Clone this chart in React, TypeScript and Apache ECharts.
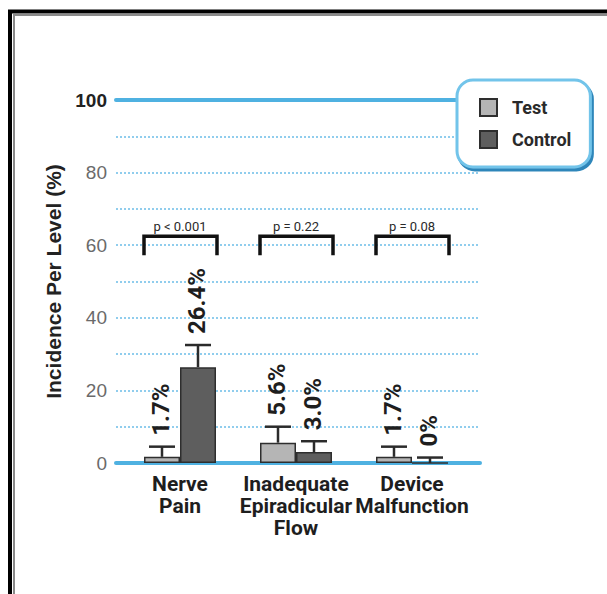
import React, { useEffect, useRef } from "react";
import * as echarts from "echarts";

const categories = ["Nerve\nPain", "Inadequate\nEpiradicular\nFlow", "Device\nMalfunction"];
const seriesNames = ["Test", "Control"];
const testValues = [1.7, 5.6, 1.7];
const controlValues = [26.4, 3.0, 0];
const testUpper = [4.5, 10.0, 4.5];
const controlUpper = [32.5, 6.0, 1.5];
const testLabels = ["1.7%", "5.6%", "1.7%"];
const controlLabels = ["26.4%", "3.0%", "0%"];
const pLabels = ["p < 0.001", "p = 0.22", "p = 0.08"];
const yMin = 0;
const yMax = 100;
const yInterval = 10;

const COND = "Roboto, 'Liberation Sans Narrow', sans-serif";
const SANS = "'Liberation Sans', Arial, sans-serif";
const BLUE = "#4fb1e1";

function errRender(offset: number, labels: string[]) {
  return (params: any, api: any) => {
    const cat = api.value(0);
    const v = api.value(1);
    const up = api.value(2);
    const base = api.coord([cat, v]);
    const top = api.coord([cat, up]);
    const x = base[0] + offset;
    const half = 13;
    const st = { stroke: "#2b2b2b", lineWidth: 2.5 };
    return {
      type: "group",
      children: [
        { type: "line", shape: { x1: x, y1: base[1], x2: x, y2: top[1] }, style: st },
        { type: "line", shape: { x1: x - half, y1: top[1], x2: x + half, y2: top[1] }, style: st },
        {
          type: "text",
          x: x - 1,
          y: top[1] - 11,
          rotation: Math.PI / 2,
          style: {
            text: labels[params.dataIndex],
            fill: "#1e1e1e",
            font: `bold 24px ${COND}`,
            align: "left",
            verticalAlign: "middle",
          },
        },
      ],
    };
  };
}

function bracketRender(params: any, api: any) {
  const cat = api.value(0);
  const c = api.coord([cat, 0])[0];
  const t = api.coord([cat, 62.5])[1];
  const b = api.coord([cat, 57.2])[1];
  const l = c - 36;
  const r = c + 37;
  return {
    type: "group",
    children: [
      {
        type: "polyline",
        shape: { points: [[l, b], [l, t], [r, t], [r, b]] },
        style: { stroke: "#111", lineWidth: 3.5, fill: "none", lineJoin: "miter" },
      },
      {
        type: "text",
        x: c,
        y: t - 3,
        style: {
          text: pLabels[params.dataIndex],
          fill: "#2a2a2a",
          font: `13px ${COND}`,
          align: "center",
          verticalAlign: "bottom",
        },
      },
    ],
  };
}

export default function App() {
  const ref = useRef<HTMLDivElement>(null);
  useEffect(() => {
    if (!ref.current) return;
    const chart = echarts.init(ref.current, undefined, { renderer: "svg" });
    const hiddenValueX = (pos: string) => ({
      type: "value",
      gridIndex: 0,
      position: pos,
      min: 0,
      max: 1,
      axisLine: { show: true, lineStyle: { color: BLUE, width: 4, cap: "round" } },
      axisTick: { show: false },
      axisLabel: { show: false },
      splitLine: { show: false },
    });
    const option: any = {
      animation: false,
      backgroundColor: "#ffffff",
      grid: [
        { left: 116, width: 364, top: 100, height: 363 },
        { left: 122, width: 348, top: 100, height: 363 },
      ],
      xAxis: [
        hiddenValueX("bottom"),
        hiddenValueX("top"),
        {
          type: "category",
          gridIndex: 1,
          data: categories,
          axisLine: { show: false },
          axisTick: { show: false },
          axisLabel: {
            interval: 0,
            margin: 10,
            color: "#1e1e1e",
            fontFamily: COND,
            fontWeight: "bold",
            fontSize: 21,
            lineHeight: 22,
          },
        },
      ],
      yAxis: [
        {
          type: "value",
          gridIndex: 0,
          min: yMin,
          max: yMax,
          interval: yInterval,
          name: "Incidence Per Level (%)",
          nameLocation: "middle",
          nameGap: 49,
          nameTextStyle: { fontFamily: SANS, fontWeight: "bold", fontSize: 21, color: "#222" },
          axisLine: { show: false },
          axisTick: { show: false },
          axisLabel: {
            margin: 9,
            formatter: (v: number) =>
              v % 20 !== 0 ? "" : v === 100 ? `{b|${v}}` : `{g|${v}}`,
            rich: {
              b: { fontFamily: SANS, fontWeight: "bold", fontSize: 19, color: "#222" },
              g: { fontFamily: SANS, fontSize: 19, color: "#6a6a6a" },
            },
          },
          splitLine: { show: true, lineStyle: { color: "#6cbde8", width: 1.5, type: [2, 2] } },
        },
        {
          type: "value",
          gridIndex: 1,
          min: yMin,
          max: yMax,
          interval: yInterval,
          show: false,
          splitLine: { show: false },
        },
      ],
      legend: {
        data: seriesNames,
        orient: "vertical",
        left: 457,
        top: 80,
        icon: "rect",
        itemWidth: 17,
        itemHeight: 17,
        itemGap: 13,
        padding: [18, 19, 18, 22],
        backgroundColor: "#ffffff",
        borderColor: "#72c4ea",
        borderWidth: 3,
        borderRadius: 16,
        shadowColor: "#2d86ba",
        shadowOffsetX: 2,
        shadowOffsetY: 3,
        shadowBlur: 1,
        itemStyle: { borderWidth: 2, borderColor: "#2e2e2e" },
        textStyle: {
          fontFamily: COND,
          fontWeight: "bold",
          fontSize: 18,
          color: "#2a2a2a",
          padding: [0, 0, 0, 10],
        },
      },
      graphic: [
        {
          type: "polyline",
          shape: { points: [[10, 594], [10, 11.5], [607, 11.5]] },
          style: { stroke: "#000", lineWidth: 4, fill: "none" },
        },
        {
          type: "polyline",
          shape: { points: [[14, 594], [14, 15], [607, 15]] },
          style: { stroke: "#8a8a8a", lineWidth: 2, fill: "none" },
        },
      ],
      series: [
        {
          name: "Test",
          type: "bar",
          xAxisIndex: 2,
          yAxisIndex: 1,
          data: testValues,
          barWidth: 36,
          barGap: "0%",
          itemStyle: { color: "#b5b5b5", borderColor: "#2e2e2e", borderWidth: 1.5 },
        },
        {
          name: "Control",
          type: "bar",
          xAxisIndex: 2,
          yAxisIndex: 1,
          data: controlValues,
          barWidth: 36,
          barGap: "0%",
          itemStyle: { color: "#5e5e5e", borderColor: "#2e2e2e", borderWidth: 1.5 },
        },
        {
          type: "custom",
          xAxisIndex: 2,
          yAxisIndex: 1,
          renderItem: errRender(-18, testLabels),
          encode: { x: 0, y: 1 },
          data: testValues.map((v, i) => [i, v, testUpper[i]]),
          z: 5,
        },
        {
          type: "custom",
          xAxisIndex: 2,
          yAxisIndex: 1,
          renderItem: errRender(18, controlLabels),
          encode: { x: 0, y: 1 },
          data: controlValues.map((v, i) => [i, v, controlUpper[i]]),
          z: 5,
        },
        {
          type: "custom",
          xAxisIndex: 2,
          yAxisIndex: 1,
          renderItem: bracketRender,
          encode: { x: 0, y: 1 },
          data: pLabels.map((_, i) => [i, 60]),
          z: 5,
        },
      ],
    };
    chart.setOption(option);
    return () => chart.dispose();
  }, []);
  return (
    <div
      ref={ref}
      style={{ position: "fixed", left: 0, top: 0, width: 607, height: 594, background: "#fff" }}
    />
  );
}
